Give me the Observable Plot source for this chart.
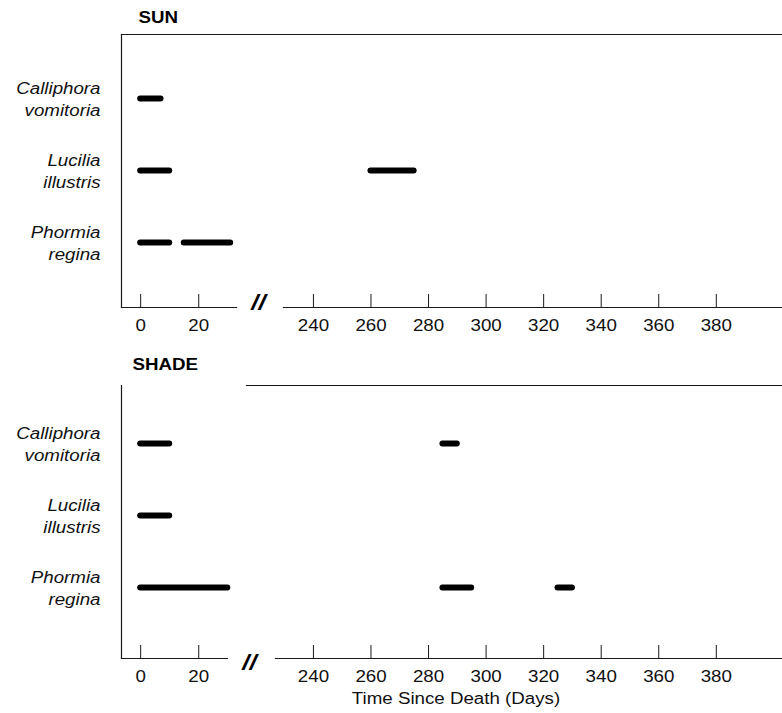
<!DOCTYPE html>
<html>
<head>
<meta charset="utf-8">
<script src="https://cdn.jsdelivr.net/npm/d3@7"></script>
<script src="https://cdn.jsdelivr.net/npm/@observablehq/plot@0.6"></script>
<style>
  html, body { margin: 0; padding: 0; background: #fff; }
  svg { display: block; }
</style>
</head>
<body>
<div id="chart"></div>
<script>
// ---- data ----
const species = ["Calliphora vomitoria", "Lucilia illustris", "Phormia regina"];
const speciesLabels = ["Calliphora\nvomitoria", "Lucilia\nillustris", "Phormia\nregina"];
const panels = ["SUN", "SHADE"];
const barPanel   = ["SUN", "SUN", "SUN", "SUN", "SUN", "SHADE", "SHADE", "SHADE", "SHADE", "SHADE", "SHADE"];
const barSpecies = ["Calliphora vomitoria", "Lucilia illustris", "Lucilia illustris", "Phormia regina", "Phormia regina",
                    "Calliphora vomitoria", "Calliphora vomitoria", "Lucilia illustris", "Phormia regina", "Phormia regina", "Phormia regina"];
const barStart = [0, 0, 260, 0, 15, 0, 285, 0, 0, 285, 325];
const barEnd   = [7, 10, 275, 10, 31, 10, 290, 10, 30, 295, 330];
const xTicks = [0, 20, 240, 260, 280, 300, 320, 340, 360, 380];
const xLabel = "Time Since Death (Days)";

const bars = barPanel.map((p, i) => ({panel: p, species: barSpecies[i], start: barStart[i], end: barEnd[i]}));
const labelOf = new Map(species.map((s, i) => [s, speciesLabels[i]]));

// ---- layout (styles) ----
const FONT = "'Liberation Sans', Arial, Helvetica, sans-serif";
const INK = "#1a1a1a";
const layout = {
  SUN:   {height: 345, marginTop: 34, marginBottom: 38, yRange: [98, 242], topInset: 0,
          segR: 546, segL: 162, brkDx: 137, brkDy: -5, titleDx: 17, titleDy: -12},
  SHADE: {height: 368, marginTop: 40, marginBottom: 55, yRange: [97, 242], topInset: 125,
          segR: 555, segL: 154, brkDx: 128, brkDy: 4, titleDx: 11, titleDy: -16}
};

function panelPlot(panel) {
  const L = layout[panel];
  const frameH = L.height - L.marginTop - L.marginBottom;
  const marks = [
    Plot.frame({anchor: "left", stroke: INK, strokeWidth: 1.2}),
    Plot.frame({anchor: "top", stroke: INK, strokeWidth: 1.2, insetLeft: L.topInset}),
    Plot.frame({anchor: "bottom", stroke: INK, strokeWidth: 1.2, insetRight: L.segR}),
    Plot.frame({anchor: "bottom", stroke: INK, strokeWidth: 1.2, insetLeft: L.segL}),
    Plot.ruleX(xTicks, {x: d => d, stroke: INK, strokeWidth: 1, insetTop: frameH - 13}),
    Plot.text(xTicks, {x: d => d, text: d => String(d), frameAnchor: "bottom", lineAnchor: "top",
                       dy: 12, fontSize: 16, fill: "#111"}),
    Plot.ruleY(bars.filter(d => d.panel === panel), {y: "species", x1: "start", x2: "end",
               stroke: "#000", strokeWidth: 6, strokeLinecap: "round"}),
    Plot.text(species, {y: d => d, text: d => labelOf.get(d), frameAnchor: "left", textAnchor: "end",
                        lineAnchor: "middle", lineHeight: 1.39, dx: -21, dy: -1,
                        fontStyle: "italic", fontSize: 16, fill: "#111"}),
    Plot.text([panel], {text: d => d, frameAnchor: "top-left", textAnchor: "start", lineAnchor: "bottom",
                        dx: L.titleDx, dy: L.titleDy, fontWeight: "bold", fontSize: 16, fill: "#000"}),
    Plot.text(["//"], {text: d => d, frameAnchor: "bottom-left", textAnchor: "middle", lineAnchor: "middle",
                       dx: L.brkDx, dy: L.brkDy, fontWeight: "bold", fontStyle: "italic", fontSize: 22, fill: "#000"})
  ];
  if (panel === "SHADE") {
    marks.push(Plot.text([xLabel], {text: d => d, frameAnchor: "bottom", lineAnchor: "bottom",
                                    dx: 4, dy: 45, fontSize: 16, fill: "#111"}));
  }
  return Plot.plot({
    width: 782,
    height: L.height,
    marginTop: L.marginTop,
    marginBottom: L.marginBottom,
    marginLeft: 121,
    marginRight: 0,
    style: {fontFamily: FONT, fontSize: "16px", background: "#fff", color: "#000", overflow: "visible"},
    x: {type: "linear", domain: [-6.6, 33, 229.6, 403], range: [121, 236, 283, 782], axis: null},
    y: {type: "point", domain: species, range: L.yRange, padding: 0, axis: null},
    marks
  });
}

const root = document.getElementById("chart");
panels.forEach(p => root.appendChild(panelPlot(p)));

// The reference typography is horizontally stretched; widen glyphs to match.
const K = 1.17;
root.querySelectorAll("text").forEach(t => {
  const spans = t.querySelectorAll("tspan");
  const els = spans.length ? Array.from(spans) : [t];
  els.forEach(e => {
    const w = e.getComputedTextLength();
    if (w > 0) {
      e.setAttribute("textLength", (w * K).toFixed(2));
      e.setAttribute("lengthAdjust", "spacingAndGlyphs");
    }
  });
});
</script>
</body>
</html>
